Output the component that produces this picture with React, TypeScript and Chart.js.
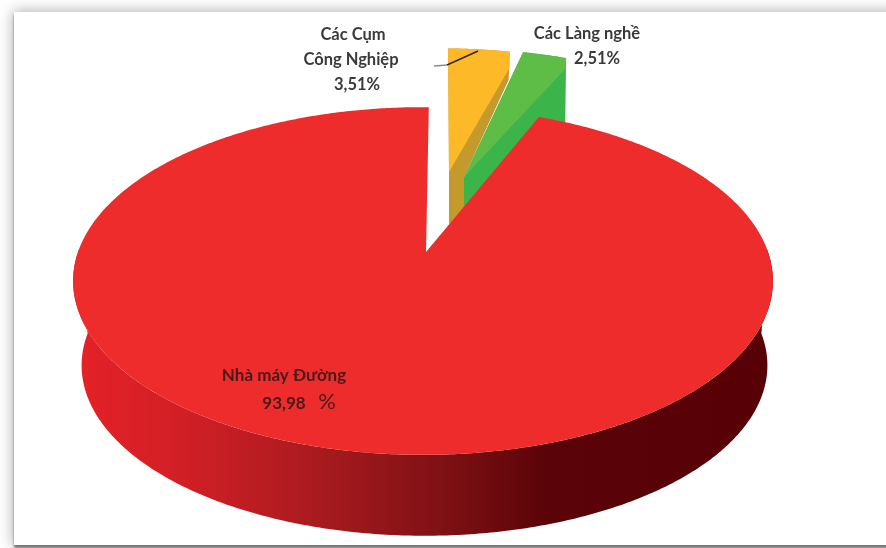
import { useEffect, useRef } from "react";
import { Chart, registerables } from "chart.js";

Chart.register(...registerables);

// Emission shares by source, in percent
const categories = ["Nhà máy Đường", "Các Cụm Công Nghiệp", "Các Làng nghề"];
const shares = [93.98, 3.51, 2.51];

const W = 886;
const H = 548;
const FONT = 'Lato, "Noto Sans", sans-serif';

// Perspective of the tilted disc
const TILT = 0.1667;
const Y_RATIO = 169 / 345;
const DEPTH = 85;
const BASE_SHRINK = 0.98;
const RIM_SHIFT = -3;
const BASE_SHIFT = 1.5;
const WEDGE_SCALE = 0.95;

// Pulled-out wedges: index 1 and 2 of the dataset
const wedgeStyles: Record<number, any> = {
  1: {
    shift: [19.6, -66],
    light: "#fdb927",
    dark: "#c49a2c",
    lightApex: [23, -80],
    darkTail: [[38, -75], [38, -37], [23, -28]],
    lightDrop: 16,
    darkDrop: 28,
  },
  2: {
    shift: [33, -65.6],
    light: "#5dbd47",
    dark: "#3bb54a",
    lightApex: [38, -75],
    darkTail: [[38, -17]],
    lightDrop: 10,
    darkDrop: 75,
  },
};

const project = (arc: any, theta: number, radius = arc.outerRadius) => {
  const u = Math.cos(theta);
  const v = Math.sin(theta);
  const d = 1 - TILT * v;
  return [arc.x + RIM_SHIFT + (radius * u) / d, arc.y + (radius * Y_RATIO * v) / d];
};

const arcPoints = (arc: any, from: number, to: number, radius?: number) => {
  const steps = Math.max(2, Math.ceil(Math.abs(to - from) / 0.01));
  const pts: number[][] = [];
  for (let i = 0; i <= steps; i++) pts.push(project(arc, from + ((to - from) * i) / steps, radius));
  return pts;
};

const fillPath = (ctx: CanvasRenderingContext2D, pts: number[][], fill: string | CanvasGradient) => {
  ctx.beginPath();
  pts.forEach(([x, y], i) => (i ? ctx.lineTo(x, y) : ctx.moveTo(x, y)));
  ctx.closePath();
  ctx.fillStyle = fill;
  ctx.fill();
};

const disc3d = {
  id: "disc3d",
  beforeDatasetsDraw(chart: any) {
    const ctx: CanvasRenderingContext2D = chart.ctx;
    const arcs = chart.getDatasetMeta(0).data;
    const main = arcs[0];

    // Side wall of the main slice along the front half of the rim
    const wallTop = arcPoints(main, -0.02, Math.PI + 0.02);
    const wallBase = arcPoints(main, Math.PI + 0.02, -0.02, main.outerRadius * BASE_SHRINK).map(
      ([x, y]) => [x + BASE_SHIFT, y + DEPTH]
    );
    const wall = ctx.createLinearGradient(main.x - main.outerRadius, 0, main.x + main.outerRadius, 0);
    wall.addColorStop(0, "#e42127");
    wall.addColorStop(0.16, "#cf1f25");
    wall.addColorStop(0.33, "#ab1b20");
    wall.addColorStop(0.52, "#801114");
    wall.addColorStop(0.68, "#5a0308");
    wall.addColorStop(1, "#570106");
    fillPath(ctx, [...wallTop, ...wallBase], wall);

    // Pulled-out wedges sit behind the main slice
    [1, 2].forEach((i) => {
      const arc = arcs[i];
      const s = wedgeStyles[i];
      const rim = arcPoints(arc, arc.startAngle, arc.endAngle, arc.outerRadius * WEDGE_SCALE).map(([x, y]) => [
        x + s.shift[0],
        y + s.shift[1],
      ]);
      const corner = rim[rim.length - 1];
      const fromCentre = ([dx, dy]: number[]) => [arc.x + dx, arc.y + dy];
      fillPath(ctx, [
        ...rim,
        [corner[0] - 1, corner[1] + s.darkDrop],
        ...s.darkTail.map(fromCentre),
        fromCentre(s.lightApex),
      ], s.dark);
      fillPath(ctx, [
        ...rim,
        [corner[0], corner[1] + s.lightDrop],
        fromCentre(s.lightApex),
      ], s.light);
    });

    // Top face of the main slice
    fillPath(ctx, [[main.x, main.y], ...arcPoints(main, main.startAngle, main.endAngle)], "#ee2c2c");

    // Leader line for the industrial clusters label
    ctx.lineWidth = 1.5;
    ctx.strokeStyle = "#8a8a8a";
    ctx.beginPath();
    ctx.moveTo(434, 66);
    ctx.lineTo(447, 65);
    ctx.stroke();
    ctx.strokeStyle = "#2b2a1c";
    ctx.beginPath();
    ctx.moveTo(447, 65);
    ctx.lineTo(478, 51);
    ctx.stroke();

    // Labels
    const pct = (v: number) => v.toFixed(2).replace(".", ",");
    const text = (t: string, x: number, y: number, size = 16.5, color = "#3a3a3a", weight = 700) => {
      ctx.font = `${weight} ${size}px ${FONT}`;
      ctx.fillStyle = color;
      ctx.textAlign = "center";
      ctx.textBaseline = "middle";
      ctx.fillText(t, x, y);
    };
    const [cum, cong] = ["Các Cụm", "Công Nghiệp"];
    text(cum, 353, 35);
    text(cong, 351, 60);
    text(`${pct(shares[1])}%`, 357, 85);
    text(categories[2], 587, 34);
    text(`${pct(shares[2])}%`, 597, 59);
    text(categories[0], 284, 376, 17, "#4a1a1a");
    text(pct(shares[0]), 284, 404, 17, "#4a1a1a");
    text("%", 327, 402, 22, "#4a1a1a", 400);

    return false;
  },
};

export default function App() {
  const ref = useRef<HTMLCanvasElement>(null);

  useEffect(() => {
    document.body.style.margin = "0";
    const chart = new Chart(ref.current!, {
      type: "pie",
      data: { labels: categories, datasets: [{ data: shares, borderWidth: 0 }] },
      options: {
        animation: false,
        responsive: false,
        rotation: 22.8,
        radius: 345,
        layout: { padding: { left: 0, top: 0, right: 34, bottom: 44 } },
        plugins: { legend: { display: false }, tooltip: { enabled: false } },
      },
      plugins: [disc3d],
    } as any);
    return () => chart.destroy();
  }, []);

  return (
    <div style={{ position: "relative", width: W, height: H, overflow: "hidden", background: "#fff" }}>
      {/* Soft frame around the white panel */}
      <div
        style={{
          position: "absolute",
          left: 14,
          top: 12,
          width: W + 30,
          height: 533,
          background: "#fff",
          boxShadow: "0 0 13px 1px rgba(110,110,110,0.55), 0 3px 2px rgba(70,70,70,0.7)",
        }}
      />
      <canvas ref={ref} width={W} height={H} style={{ position: "absolute", left: 0, top: 0 }} />
    </div>
  );
}
